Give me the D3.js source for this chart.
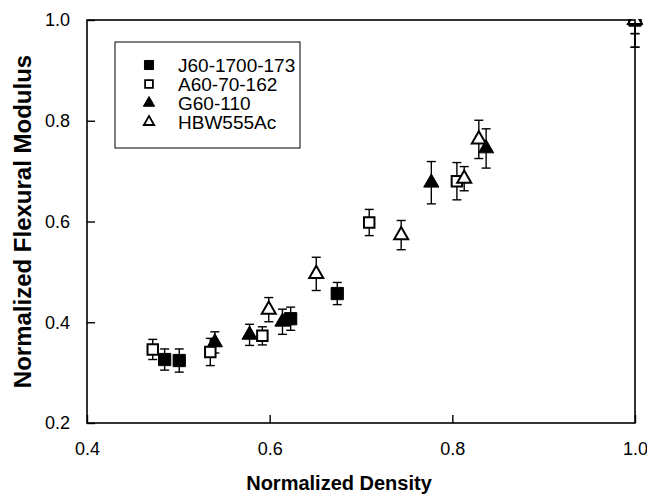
<!DOCTYPE html>
<html>
<head>
<meta charset="utf-8">
<script src="https://cdn.jsdelivr.net/npm/d3@7"></script>
<style>
    body { margin: 0; background: #fff; }
    text { font-family: "Liberation Sans", Arial, sans-serif; fill: #000; }
</style>
</head>
<body>
<div class="chart"></div>
<script>
// Series: [density, modulus, error]
const seriesNames = ["J60-1700-173", "A60-70-162", "G60-110", "HBW555Ac"];
const j60 = [[0.485, 0.326, 0.021], [0.501, 0.324, 0.023], [0.623, 0.407, 0.023], [0.674, 0.457, 0.022], [1.0, 1.0, 0.054]];
const a60 = [[0.472, 0.346, 0.020], [0.535, 0.341, 0.027], [0.592, 0.373, 0.018], [0.709, 0.598, 0.026], [0.805, 0.680, 0.037], [1.0, 1.0, 0.027]];
const g60 = [[0.540, 0.360, 0.021], [0.578, 0.375, 0.021], [0.614, 0.401, 0.025], [0.777, 0.677, 0.042], [0.837, 0.745, 0.039], [1.0, 1.0, 0.054]];
const hbw = [[0.599, 0.425, 0.024], [0.651, 0.496, 0.033], [0.744, 0.573, 0.029], [0.813, 0.685, 0.024], [0.829, 0.763, 0.038], [1.0, 1.0, 0.027]];
const xTicks = [0.4, 0.6, 0.8, 1.0];
const yTicks = [0.2, 0.4, 0.6, 0.8, 1.0];

const width = 647, height = 496;
const margin = {left: 87, right: 12, top: 20, bottom: 73};

const svg = d3.select(".chart").append("svg")
    .attr("width", width)
    .attr("height", height);

const x = d3.scaleLinear().domain([0.4, 1.0]).range([margin.left, width - margin.right]);
const y = d3.scaleLinear().domain([0.2, 1.0]).range([height - margin.bottom, margin.top]);

// clip for marks
svg.append("clipPath").attr("id", "plot-clip")
    .append("rect")
    .attr("x", x(0.4)).attr("y", y(1.0) - 1)
    .attr("width", x(1.0) - x(0.4) + 8).attr("height", y(0.2) - y(1.0) + 1);

// Marker styles
const styles = [
    {data: j60, shape: d3.symbolSquare, size: 150, fill: "#000"},
    {data: a60, shape: d3.symbolSquare, size: 110, fill: "#fff"},
    {data: g60, shape: d3.symbolTriangle, size: 100, fill: "#000"},
    {data: hbw, shape: d3.symbolTriangle, size: 85, fill: "#fff"}
];

const plot = svg.append("g").attr("clip-path", "url(#plot-clip)");

// error bars
styles.forEach(s => {
    const g = plot.append("g");
    s.data.forEach(d => {
        const cx = x(d[0]);
        const top = y(d[1] + d[2]), bot = y(d[1] - d[2]);
        g.append("line").attr("x1", cx).attr("x2", cx).attr("y1", top).attr("y2", bot)
            .attr("stroke", "#000").attr("stroke-width", 1.4);
        [top, bot].forEach(v => {
            g.append("line").attr("x1", cx - 4.5).attr("x2", cx + 4.5).attr("y1", v).attr("y2", v)
                .attr("stroke", "#000").attr("stroke-width", 1.4);
        });
    });
});

// markers
styles.forEach(s => {
    plot.append("g").selectAll("path")
        .data(s.data)
        .enter()
        .append("path")
        .attr("transform", d => `translate(${x(d[0])},${y(d[1])})`)
        .attr("d", d3.symbol().type(s.shape).size(s.size))
        .attr("fill", s.fill)
        .attr("stroke", "#000")
        .attr("stroke-width", s.fill === "#fff" ? 2 : 1);
});

// frame
svg.append("rect")
    .attr("x", x(0.4)).attr("y", y(1.0))
    .attr("width", x(1.0) - x(0.4)).attr("height", y(0.2) - y(1.0))
    .attr("fill", "none").attr("stroke", "#000").attr("stroke-width", 1.6);

// axes with inward ticks
const xAxis = svg.append("g")
    .attr("transform", `translate(0,${y(0.2)})`)
    .call(d3.axisBottom(x).tickValues(xTicks).tickSizeInner(-8).tickSizeOuter(0).tickPadding(19).tickFormat(d3.format(".1f")));
const yAxis = svg.append("g")
    .attr("transform", `translate(${x(0.4)},0)`)
    .call(d3.axisLeft(y).tickValues(yTicks).tickSizeInner(-8).tickSizeOuter(0).tickPadding(17).tickFormat(d3.format(".1f")));

[xAxis, yAxis].forEach(a => {
    a.select(".domain").remove();
    a.selectAll(".tick line").attr("stroke", "#000").attr("stroke-width", 1.4);
    a.selectAll(".tick text")
        .style("font-family", "'Liberation Sans', Arial, sans-serif")
        .style("font-size", "18px")
        .attr("fill", "#000");
});

// axis titles
svg.append("text")
    .attr("x", (x(0.4) + x(1.0)) / 2 - 22)
    .attr("y", 490)
    .attr("text-anchor", "middle")
    .style("font-size", "20px")
    .style("font-weight", "bold")
    .text("Normalized Density");

svg.append("text")
    .attr("transform", `translate(31,${(y(0.2) + y(1.0)) / 2}) rotate(-90)`)
    .attr("text-anchor", "middle")
    .style("font-size", "24px")
    .style("font-weight", "bold")
    .text("Normalized Flexural Modulus");

// legend
const legend = svg.append("g");
legend.append("rect")
    .attr("x", 115).attr("y", 42)
    .attr("width", 185).attr("height", 106)
    .attr("fill", "#fff").attr("stroke", "#000").attr("stroke-width", 1);

styles.forEach((s, i) => {
    const ly = 65 + i * 19;
    legend.append("path")
        .attr("transform", `translate(149,${ly})`)
        .attr("d", d3.symbol().type(s.shape).size(s.size * 0.55))
        .attr("fill", s.fill)
        .attr("stroke", "#000")
        .attr("stroke-width", s.fill === "#fff" ? 1.8 : 1);
    legend.append("text")
        .attr("x", 178)
        .attr("y", ly)
        .attr("dy", "0.36em")
        .style("font-size", "19px")
        .text(seriesNames[i]);
});
</script>
</body>
</html>
